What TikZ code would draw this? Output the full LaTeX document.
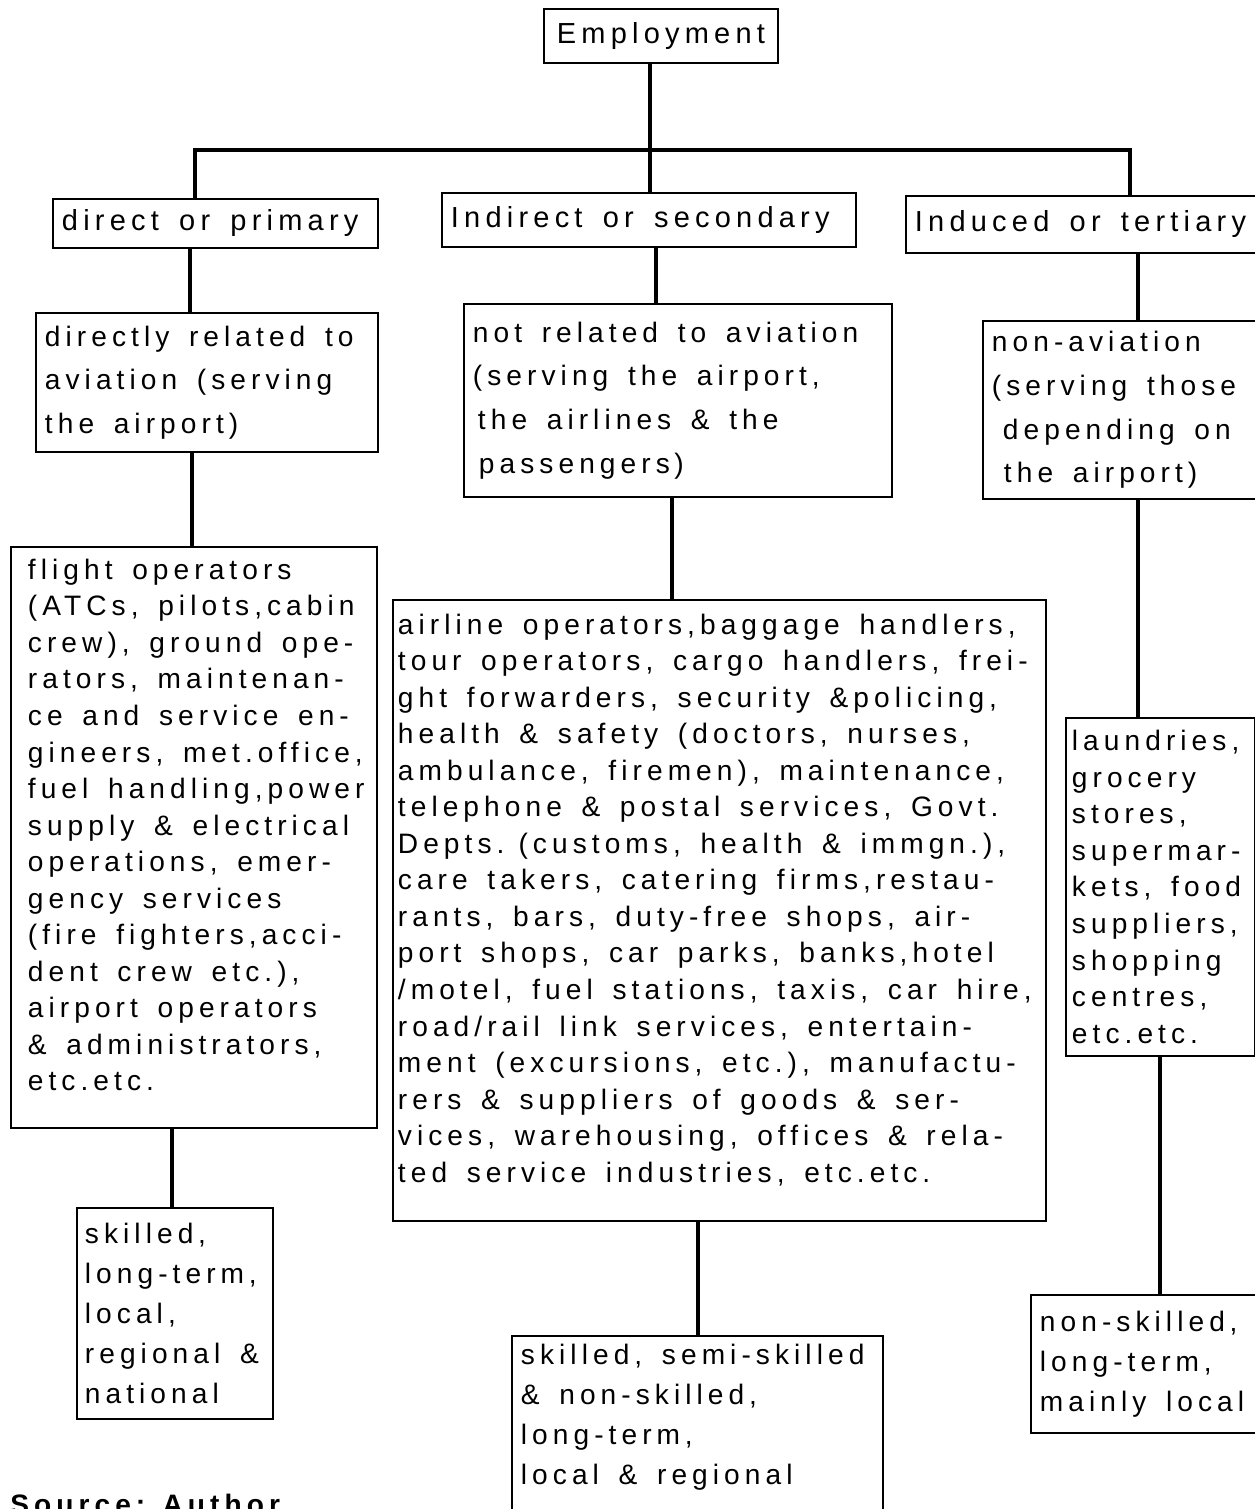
\documentclass[tikz,border=0pt]{standalone}
\usepackage{fontspec}
\setmainfont{Liberation Sans}[LetterSpace=18]
\usetikzlibrary{positioning,calc}

\begin{document}
\begin{tikzpicture}[x=0.02cm, y=-0.02cm,
    box/.style={rectangle, draw, line width=1.1pt, anchor=north west, inner xsep=0.18cm, inner ysep=0.1cm, align=left, font=\fontsize{16}{20.8}\selectfont, execute at begin node={\spaceskip=0.7em\relax}},
    head/.style={box, font=\fontsize{16.5}{20}\selectfont},
    mid/.style={box, font=\fontsize{16}{24.8}\selectfont},
    low/.style={box, font=\fontsize{16}{22.8}\selectfont},
    conn/.style={line width=2.4pt}
]
\useasboundingbox (0,0) rectangle (1255,1509);
\clip (0,0) rectangle (1255,1509);

% top
\node[head, text width=4.32cm, align=center, minimum height=1.08cm] (emp) at (543,8) {Employment};

% three kinds
\node[head, text width=6.14cm, minimum height=0.98cm] (prim) at (52,198) {direct or primary};
\node[head, text width=7.92cm, minimum height=1.08cm] (sec) at (441,192) {Indirect or secondary};
\node[head, text width=7.64cm, minimum height=1.14cm] (tert) at (905,195) {Induced or tertiary};

% relation to aviation
\node[mid, text width=6.48cm, minimum height=2.78cm] (rel1) at (35,312) {directly related to\\aviation (serving\\the airport)};
\node[mid, text width=8.2cm, minimum height=3.86cm] (rel2) at (463,303) {not related to aviation\\(serving the airport,\\\hspace*{0.1cm}the airlines \& the\\\hspace*{0.12cm}passengers\,)};
\node[mid, text width=5.64cm, minimum height=3.56cm] (rel3) at (982,320) {non-aviation\\(serving those\\\hspace*{0.22cm}depending on\\\hspace*{0.24cm}the airport)};

% jobs
\node[box, inner xsep=0.34cm, text width=6.64cm, minimum height=11.62cm] (jobs1) at (10,546) {flight operators\\(ATCs, pilots,cabin\\crew), ground ope-\\rators, maintenan-\\ce and service en-\\gineers, met.office,\\fuel~handling,power\\supply \& electrical\\operations, emer-\\gency services\\(fire fighters,acci-\\dent crew etc.),\\airport operators\\\& administrators,\\etc.etc.\rule[-0.5cm]{0pt}{0pt}};
\node[box, inner xsep=0.1cm, text width=12.86cm, minimum height=12.42cm] (jobs2) at (392,599) {airline operators,baggage handlers,\\tour operators, cargo handlers, frei-\\ght forwarders, security \&policing,\\health \& safety (doctors, nurses,\\ambulance, firemen), maintenance,\\telephone \& postal services, Govt.\\Depts. (customs, health \& immgn.),\\care takers, catering firms,restau-\\rants, bars, duty-free shops, air-\\port shops, car parks, banks,hotel\\/motel, fuel stations, taxis, car~hire,\\road/rail link services, entertain-\\ment (excursions, etc.), manufactu-\\rers \& suppliers of goods \& ser-\\vices, warehousing, offices \& rela-\\ted service industries, etc.etc.\rule[-0.5cm]{0pt}{0pt}};
\node[box, inner xsep=0.12cm, text width=3.54cm, minimum height=6.76cm] (jobs3) at (1065,717) {laundries,\\grocery\\stores,\\supermar-\\kets,~food\\suppliers,\\shopping\\centres,\\etc.etc.};

% skills
\node[low, inner xsep=0.16cm, text width=3.6cm, minimum height=4.22cm] (skill1) at (76,1207) {skilled\,,\\long-term\,,\\local,\\regional~\&\\national};
\node[low, inner ysep=0.16cm, text width=7.06cm] (skill2) at (511,1335) {skilled, semi-skilled\\\& non-skilled\,,\\long-term\,,\\local \& regional\rule[-1.5cm]{0pt}{0pt}};
\node[low, text width=4.44cm, minimum height=2.76cm] (skill3) at (1030,1294) {non-skilled\,,\\long-term\,,\\mainly local};

\node[font=\fontsize{16}{20}\selectfont\bfseries, anchor=north west, inner sep=0pt] (src) at (10,1494) {Source: Author};

% connector positions
\coordinate (hub) at (650,150);
\coordinate (xp) at (195,0);
\coordinate (xt) at (1130,0);
\coordinate (x1) at (190,0);
\coordinate (x2) at (656,0);
\coordinate (x3) at (1138,0);
\coordinate (y1) at (192,0);
\coordinate (y2) at (672,0);
\coordinate (z1) at (172,0);
\coordinate (z2) at (698,0);
\coordinate (z3) at (1160,0);

\draw[conn] (emp.south -| hub) -- (sec.north -| hub);
\draw[conn] (prim.north -| xp) -- (xp |- hub) -- (xt |- hub) -- (tert.north -| xt);
\draw[conn] (prim.south -| x1) -- (rel1.north -| x1);
\draw[conn] (sec.south -| x2) -- (rel2.north -| x2);
\draw[conn] (tert.south -| x3) -- (rel3.north -| x3);
\draw[conn] (rel1.south -| y1) -- (jobs1.north -| y1);
\draw[conn] (rel2.south -| y2) -- (jobs2.north -| y2);
\draw[conn] (rel3.south -| x3) -- (jobs3.north -| x3);
\draw[conn] (jobs1.south -| z1) -- (skill1.north -| z1);
\draw[conn] (jobs2.south -| z2) -- (skill2.north -| z2);
\draw[conn] (jobs3.south -| z3) -- (skill3.north -| z3);

\end{tikzpicture}
\end{document}
